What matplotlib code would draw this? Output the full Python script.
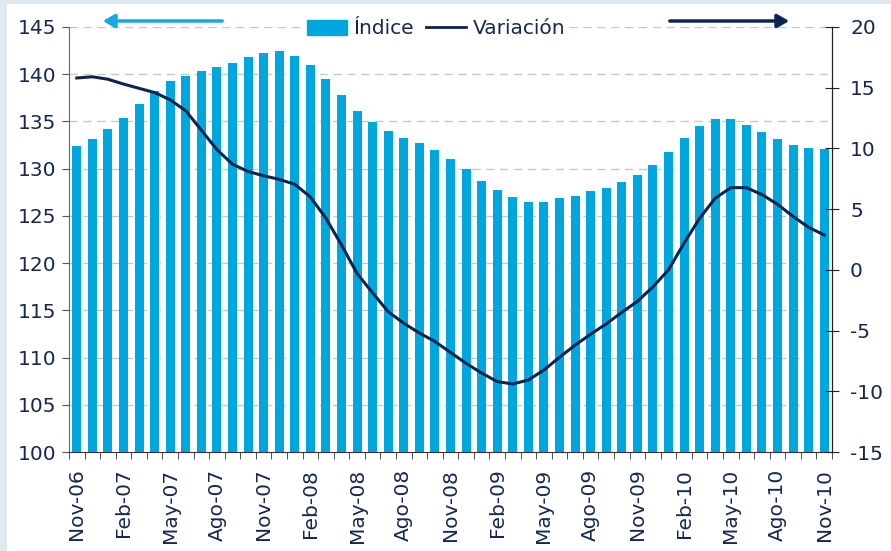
import matplotlib.pyplot as plt
import matplotlib.patches as mpatches
from matplotlib.lines import Line2D

# monthly labels Nov-06 .. Nov-10
MONTHS = ["Ene", "Feb", "Mar", "Abr", "May", "Jun",
          "Jul", "Ago", "Sep", "Oct", "Nov", "Dic"]
labels = []
m, y = 10, 6
for _ in range(49):
    labels.append(f"{MONTHS[m]}-{y:02d}")
    m += 1
    if m == 12:
        m, y = 0, y + 1

indice = [132.4, 133.1, 134.2, 135.4, 136.85, 138.2, 139.3, 139.8, 140.3, 140.75,
          141.2, 141.8, 142.25, 142.45, 141.9, 141.0, 139.5, 137.8, 136.1, 134.9,
          134.0, 133.25, 132.7, 132.0, 131.0, 129.96, 128.7, 127.74, 127.0, 126.47,
          126.47, 126.9, 127.1, 127.6, 127.95, 128.6, 129.3, 130.4, 131.8, 133.25,
          134.5, 135.26, 135.26, 134.6, 133.9, 133.1, 132.5, 132.2, 132.1]

variacion = [15.8, 15.9, 15.7, 15.3, 14.95, 14.6, 14.0, 13.1, 11.5, 9.9,
             8.7, 8.1, 7.75, 7.45, 7.05, 6.0, 4.25, 2.05, -0.3, -1.9,
             -3.45, -4.4, -5.2, -5.9, -6.8, -7.7, -8.5, -9.2, -9.4, -9.07,
             -8.25, -7.2, -6.2, -5.3, -4.45, -3.5, -2.6, -1.4, 0.0, 2.2,
             4.25, 5.9, 6.77, 6.77, 6.2, 5.4, 4.4, 3.5, 2.87]

BAR = "#00a6de"
NAVY = "#0c2550"
TXT = "#15284f"

plt.rcParams["font.family"] = ["DejaVu Sans"]
plt.rcParams["axes.unicode_minus"] = False

fig = plt.figure(figsize=(8.91, 5.51), dpi=100)
fig.patch.set_facecolor("white")
# light blue frame on left/top edges
fig.add_artist(mpatches.Rectangle((0, 0), 7 / 891, 1, transform=fig.transFigure,
                                  facecolor="#dfeaf0", edgecolor="none", zorder=-5))
fig.add_artist(mpatches.Rectangle((0, 1 - 4 / 551), 1, 4 / 551, transform=fig.transFigure,
                                  facecolor="#dfeaf0", edgecolor="none", zorder=-5))

ax = fig.add_axes([69 / 891, 1 - 452 / 551, (832 - 69) / 891, (452 - 27) / 551])
ax2 = ax.twinx()

x = list(range(len(labels)))
ax.bar(x, indice, width=0.58, color=BAR, zorder=2)
ax.set_ylim(100, 145)
ax.set_xlim(-0.5, len(labels) - 0.5)
ax.set_yticks(range(100, 146, 5))
for v in range(105, 146, 5):
    ax.axhline(v, color="#c8c8c8", lw=1, ls=(0, (6, 4)), zorder=1)

ax.set_xticks(x[::3])
ax.set_xticklabels(labels[::3], rotation=90)
ax.set_xticks([i - 0.5 for i in range(len(labels) + 1)], minor=True)
ax.tick_params(axis="x", which="major", length=0, pad=12, labelsize=14.5, colors=TXT)
ax.tick_params(axis="x", which="minor", length=5, color="#333333", direction="out")
ax.tick_params(axis="y", length=5, colors=TXT, labelsize=14.5, pad=4)
ax.tick_params(axis="y", color="#555555")

ax2.plot(x, variacion, color=NAVY, lw=2.2, zorder=3)
ax2.set_ylim(-15, 20)
ax2.set_yticks(range(-15, 21, 5))
ax2.tick_params(axis="y", direction="inout", length=10, colors=TXT, labelsize=14.5,
                pad=8, color="#222222")

for a in (ax, ax2):
    a.spines["top"].set_visible(False)
ax.spines["left"].set_color("#666666")
ax.spines["bottom"].set_color("#333333")
ax2.spines["right"].set_color("#222222")
ax2.spines["left"].set_visible(False)
ax2.spines["bottom"].set_visible(False)

handles = [mpatches.Patch(color=BAR, label="Índice"),
           Line2D([], [], color=NAVY, lw=2, label="Variación")]
leg = ax2.legend(handles=handles, loc="center", bbox_to_anchor=(436 / 891, 1 - 29 / 551),
                 bbox_transform=fig.transFigure, ncol=2, frameon=True, fontsize=14.5,
                 handlelength=2.0, handleheight=0.75, handletextpad=0.3, columnspacing=0.6,
                 borderpad=0.2, labelcolor=TXT)
leg.get_frame().set_facecolor("white")
leg.get_frame().set_edgecolor("none")
leg.get_frame().set_alpha(1)

# axis-direction arrows
fig.add_artist(mpatches.FancyArrowPatch((225 / 891, 1 - 21 / 551), (100 / 891, 1 - 21 / 551),
                                        transform=fig.transFigure, arrowstyle="-|>,head_length=7,head_width=4",
                                        color="#19a9e0", lw=2.5))
fig.add_artist(mpatches.FancyArrowPatch((667 / 891, 1 - 21 / 551), (792 / 891, 1 - 21 / 551),
                                        transform=fig.transFigure, arrowstyle="-|>,head_length=7,head_width=4",
                                        color=NAVY, lw=2.5))

fig.savefig("out.png", dpi=100)
